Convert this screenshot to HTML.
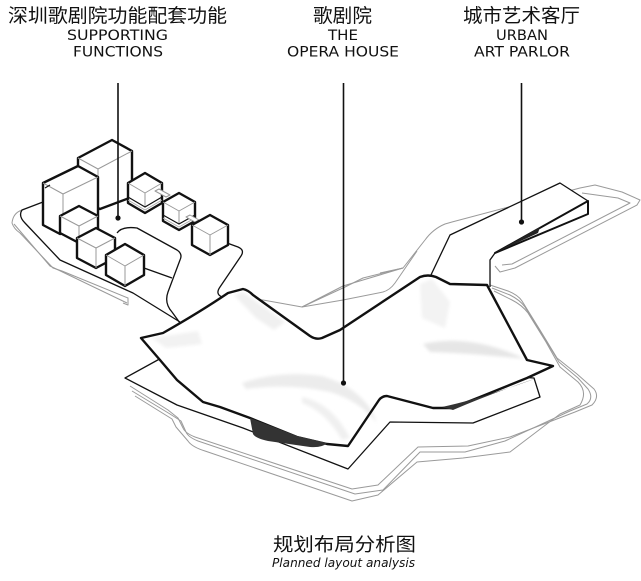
<!DOCTYPE html>
<html><head><meta charset="utf-8">
<style>
html,body{margin:0;padding:0;background:#fff;}
svg{display:block;}
.cjk{font-family:"Liberation Sans","Noto Sans CJK SC",sans-serif;fill:#111;}
.en{font-family:"DejaVu Sans","Liberation Sans",sans-serif;fill:#111;}
</style></head><body>
<svg width="641" height="581" viewBox="0 0 641 581" xmlns="http://www.w3.org/2000/svg">
<defs><filter id="b" x="-20%" y="-20%" width="140%" height="140%"><feGaussianBlur stdDeviation="1.5"/></filter></defs>
<rect width="641" height="581" fill="#fff"/>

<!-- gray contour lines wrapping opera -->
<g fill="none" stroke="#9a9a9a" stroke-width="1" stroke-linejoin="round">
<path d="M490,285 L508,291 Q518,295 522,301 L540,330 L557,358 L577,374 L594,389 Q600,397 592,405 L575,412 L510,437 L468,446 L418,447 L378,485 L352,489 L195,437 Q185,433 183,428 L178,418 L168,410 L130,386"/>
<path d="M492,288 L510,295 Q520,300 525,307 L543,336 L559,362 L578,378 L588,389 Q594,398 587,404 L570,411 L505,441 L465,452 L420,452 L383,490 L355,494 L198,441 Q188,437 186,432 L181,421 L170,414 L132,391"/>
<path d="M494,291 L512,300 Q522,305 528,313 L546,342 L560,367 L578,382 Q588,392 580,405 L560,414 L510,452 L463,458 L417,462 L378,495 L352,501 L205,451 Q192,447 188,441 L176,427 L172,419 L135,396"/>
<path d="M222,297 L263,300 L302,307 L343,286 L403,268 L425,240 Q433,229 445,224 L452,222 L580,188 L595,185 L622,192 L640,200 L637,205 L515,268 L500,272 L495,266"/>
<path d="M302,307 L343,300 L383,292 Q390,290 395,283 L417,251"/>
<path d="M302,307 L345,287 L363,278 L403,268"/>
<path d="M380,273 L403,268"/>
<path d="M582,193 L618,198 L630,203 L512,264 L502,265"/>
<path d="M22,210 Q13,213 12,223 Q14,229 20,233 L53,268 L62,271 L128,298 L128,305 L123,303"/>
<path d="M14,224 L50,266 L127,303"/>
</g>

<!-- plate -->
<path d="M125,378 L165,356 L534,378 L540,397 L473,423 L390,422 L348,469 L243,428 L177,405 Z" fill="#fff" stroke="#111" stroke-width="1.3" stroke-linejoin="round"/>

<!-- left platform black lines -->
<g fill="none" stroke="#111" stroke-width="1.3" stroke-linejoin="round">
<path d="M43,202 L22,210 Q18,216 25,223 L60,260 L133,293 L180,322"/>
<path d="M117,233 Q122,226 137,228 L177,250 Q183,254 180,260 L168,292 Q164,303 172,312 L180,323"/>
<path d="M144,268 L172,278"/>
<path d="M227,243 L238,247 Q245,250 241,256 L220,287 Q215,294 222,297"/>
</g>

<!-- urban art parlor -->
<path d="M430,277 L450,235 L560,183 L588,201 L588,214 L495,253 L490,260 L490,287 Z" fill="#fff" stroke="none"/>
<path d="M430,277 L450,235 L560,183 L588,201" fill="none" stroke="#111" stroke-width="1.3" stroke-linejoin="round"/>
<path d="M495,253 L490,260 L490,287" fill="none" stroke="#111" stroke-width="1.3"/>
<path d="M495,253 L588,201 L588,214 Z" fill="#fff" stroke="#111" stroke-width="2" stroke-linejoin="round"/>
<path d="M495,253 L540,227 L538,233 Z" fill="#222"/>

<!-- opera roof -->
<path d="M141,338 L163,333 Q200,312 228,293 L243,289 Q248,290 253,295 L310,336 Q316,340 322,338 L340,330 L420,277 Q428,274 436,277 L450,284 L487,285 L527,360 L553,366 L527,378 L480,397 L452,408 L433,408 L387,396 Q382,396 379,400 L348,446 L327,444 L297,437 L250,418 L220,407 L203,402 L177,380 L160,360 Z" fill="#fff"/>
<g filter="url(#b)" fill="#ececec">
<path d="M234,295 L243,292 L285,322 L274,330 L256,318 Z" fill="#f0f0f0"/>
<path d="M420,284 L432,279 L450,302 L445,328 L422,318 Z" fill="#f3f3f3"/>
<path d="M423,344 Q470,333 525,359 Q470,353 430,352 Z" fill="#e6e6e6"/>
<path d="M152,338 L198,331 L202,344 L166,348 Z" fill="#f2f2f2"/>
<path d="M242,383 Q280,370 322,376 Q356,386 372,411 L377,423 Q360,401 330,392 Q290,383 246,389 Z"/>
<path d="M302,397 Q332,403 350,438 L342,440 Q326,412 302,403 Z" fill="#f0f0f0"/>
</g>
<path d="M141,338 L163,333 Q200,312 228,293 L243,289 Q248,290 253,295 L310,336 Q316,340 322,338 L340,330 L420,277 Q428,274 436,277 L450,284 L487,285 L527,360 L553,366 L527,378 L480,397 L452,408 L433,408 L387,396 Q382,396 379,400 L348,446 L327,444 L297,437 L250,418 L220,407 L203,402 L177,380 L160,360 Z" fill="none" stroke="#111" stroke-width="2.4" stroke-linejoin="round"/>
<path d="M250,418 L297,436 L327,443 Q322,448 310,447 L268,441 Q255,438 253,434 Z" fill="#333"/>
<path d="M442,407 Q480,399 537,378 Q490,394 453,410 Z" fill="#333"/>

<!-- buildings -->
<g stroke-linejoin="round">
<path d="M100,208 L128,195" stroke="#111" stroke-width="2.4"/>
<path d="M78,158 L112,140 L132,151 L132,197 L100,209 L78,199 Z" fill="#fff" stroke="#111" stroke-width="2.4"/>
<path d="M78,158 L98,169 L132,151 M98,169 L98,205" fill="none" stroke="#999" stroke-width="1"/>
<path d="M145,173 L162,183 L162,203 L145,213 L128,203 L128,183 Z" fill="#fff" stroke="#111" stroke-width="2.4"/>
<path d="M128,183 L145,193 L162,183 M145,193 L145,207" fill="none" stroke="#999" stroke-width="1"/>
<path d="M128,197 L145,207 L162,197" fill="none" stroke="#111" stroke-width="1.2"/>
<path d="M128,200 L145,210 L162,200" fill="none" stroke="#aaa" stroke-width="1"/>
<path d="M155,191 L159,189 L170,195 L166,197 Z" fill="#fff" stroke="#999" stroke-width="1"/>
<path d="M179,193 L195,202 L195,221 L179,230 L163,221 L163,202 Z" fill="#fff" stroke="#111" stroke-width="2.4"/>
<path d="M163,202 L179,211 L195,202 M179,211 L179,224" fill="none" stroke="#999" stroke-width="1"/>
<path d="M163,215 L179,224 L195,215" fill="none" stroke="#111" stroke-width="1.2"/>
<path d="M163,218 L179,227 L195,218" fill="none" stroke="#aaa" stroke-width="1"/>
<path d="M186,217 L190,215 L199,220 L195,222 Z" fill="#fff" stroke="#999" stroke-width="1"/>
<path d="M210,215 L228,225 L228,245 L210,255 L192,245 L192,225 Z" fill="#fff" stroke="#111" stroke-width="2.4"/>
<path d="M192,225 L210,235 L228,225 M210,235 L210,255" fill="none" stroke="#999" stroke-width="1"/>
<path d="M43,183 L78,166 L98,177 L98,216 L60,234 L43,225 Z" fill="#fff" stroke="#111" stroke-width="2.4"/>
<path d="M43,183 L63,194 L98,177 M63,194 L63,228" fill="none" stroke="#999" stroke-width="1"/>
<path d="M45,188 L50,185" fill="none" stroke="#111" stroke-width="1.2"/>
<path d="M79,206 L98,216 L98,233 L79,243 L60,233 L60,216 Z" fill="#fff" stroke="#111" stroke-width="2.4"/>
<path d="M60,216 L79,226 L98,216 M79,226 L79,243" fill="none" stroke="#999" stroke-width="1"/>
<path d="M96,228 L115,238 L115,258 L96,268 L77,258 L77,238 Z" fill="#fff" stroke="#111" stroke-width="2.4"/>
<path d="M77,238 L96,248 L115,238 M96,248 L96,268" fill="none" stroke="#999" stroke-width="1"/>
<path d="M125,244 L144,255 L144,275 L125,286 L106,275 L106,255 Z" fill="#fff" stroke="#111" stroke-width="2.4"/>
<path d="M106,255 L125,266 L144,255 M125,266 L125,286" fill="none" stroke="#999" stroke-width="1"/>
</g>

<!-- leader lines -->
<g stroke="#111" stroke-width="1.6">
<line x1="118" y1="83" x2="118" y2="218"/>
<line x1="343.5" y1="83" x2="343.5" y2="383"/>
<line x1="521.5" y1="83" x2="521.5" y2="222"/>
</g>
<g fill="#111">
<circle cx="118" cy="218" r="2.6"/>
<circle cx="343.5" cy="383" r="2.6"/>
<circle cx="521.5" cy="222" r="2.6"/>
</g>

<!-- labels -->
<text class="cjk" x="8" y="22" font-size="19" textLength="219" lengthAdjust="spacingAndGlyphs">深圳歌剧院功能配套功能</text>
<text class="en" x="67" y="40" font-size="14.5" textLength="101" lengthAdjust="spacingAndGlyphs">SUPPORTING</text>
<text class="en" x="73" y="56.5" font-size="14.5" textLength="90" lengthAdjust="spacingAndGlyphs">FUNCTIONS</text>

<text class="cjk" x="313" y="22" font-size="19" textLength="59" lengthAdjust="spacingAndGlyphs">歌剧院</text>
<text class="en" x="328" y="40" font-size="14.5" textLength="30" lengthAdjust="spacingAndGlyphs">THE</text>
<text class="en" x="287" y="56.5" font-size="14.5" textLength="112" lengthAdjust="spacingAndGlyphs">OPERA HOUSE</text>

<text class="cjk" x="463" y="22" font-size="19" textLength="117" lengthAdjust="spacingAndGlyphs">城市艺术客厅</text>
<text class="en" x="496" y="40" font-size="14.5" textLength="52" lengthAdjust="spacingAndGlyphs">URBAN</text>
<text class="en" x="474" y="56.5" font-size="14.5" textLength="96" lengthAdjust="spacingAndGlyphs">ART PARLOR</text>

<text class="cjk" x="273" y="551" font-size="18.5" textLength="143" lengthAdjust="spacingAndGlyphs">规划布局分析图</text>
<text class="en" x="272" y="567" font-size="12.5" font-style="italic" textLength="143" lengthAdjust="spacingAndGlyphs">Planned layout analysis</text>
</svg>
</body></html>
